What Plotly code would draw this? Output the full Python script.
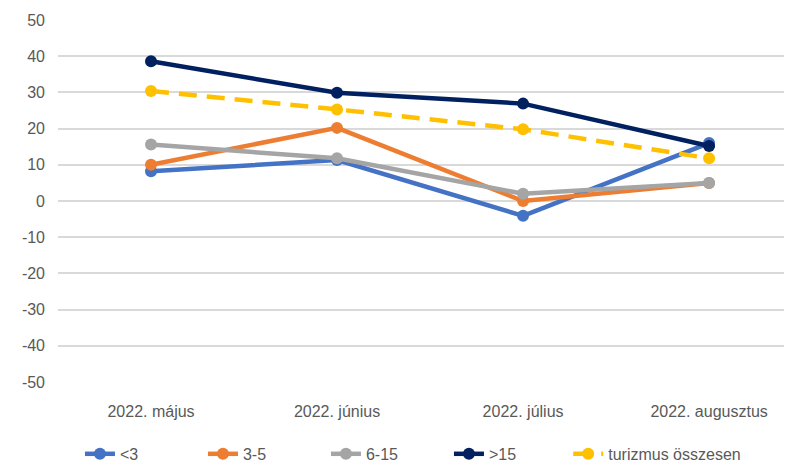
import plotly.graph_objects as go

# categories and series
months = ["2022. május", "2022. június", "2022. július", "2022. augusztus"]

lt3 = [8.2, 11.3, -4.1, 16.0]
s3_5 = [10.0, 20.2, 0.0, 5.0]
s6_15 = [15.6, 11.8, 2.0, 5.0]
gt15 = [38.6, 29.9, 26.9, 15.2]
turizmus = [30.4, 25.3, 19.8, 11.8]

y_ticks = [-50, -40, -30, -20, -10, 0, 10, 20, 30, 40, 50]
y_labels = [str(v) for v in y_ticks]  # plain hyphen minus like the original

series = [
    ("<3", lt3, "#4472C4", "solid", "legend"),
    ("3-5", s3_5, "#ED7D31", "solid", "legend"),
    ("6-15", s6_15, "#A5A5A5", "solid", "legend"),
    (">15", gt15, "#002060", "solid", "legend"),
    ("turizmus összesen", turizmus, "#FFC000", "18px,10px", "legend2"),
]

font_family = "Liberation Sans Narrow, Arial Narrow, Liberation Sans, sans-serif"

fig = go.Figure()
for name, vals, color, dash, leg in series:
    fig.add_trace(go.Scatter(
        x=months,
        y=vals,
        name=name,
        mode="lines+markers",
        line=dict(color=color, width=4.5, dash=dash),
        marker=dict(color=color, size=12),
        legend=leg,
    ))

legend_style = dict(
    orientation="h",
    xanchor="left",
    yref="container",
    y=0.02,
    yanchor="middle",
    font=dict(size=16, color="#595959"),
    tracegroupgap=0,
)

# page body has an 8px margin, so the figure is sized to fit inside the window
fig.update_layout(
    width=784,
    height=455,
    margin=dict(l=50, r=2, t=12, b=81),
    plot_bgcolor="white",
    paper_bgcolor="white",
    font=dict(family=font_family, size=16, color="#595959"),
    showlegend=True,
    legend=dict(legend_style, x=0.03, entrywidth=78, entrywidthmode="pixels"),
    legend2=dict(legend_style, x=0.697),
)

fig.update_xaxes(
    type="category",
    range=[-0.5, 3.435],
    showgrid=False,
    showline=False,
    zeroline=False,
    ticks="",
    ticklabelstandoff=18,
    automargin=False,
)

fig.update_yaxes(
    range=[-50, 50],
    tickvals=y_ticks,
    ticktext=y_labels,
    showgrid=True,
    gridcolor="#D9D9D9",
    gridwidth=1.5,
    zeroline=False,
    showline=False,
    ticks="",
    ticklabelstandoff=12,
    automargin=False,
)

fig.write_html("out.html")
